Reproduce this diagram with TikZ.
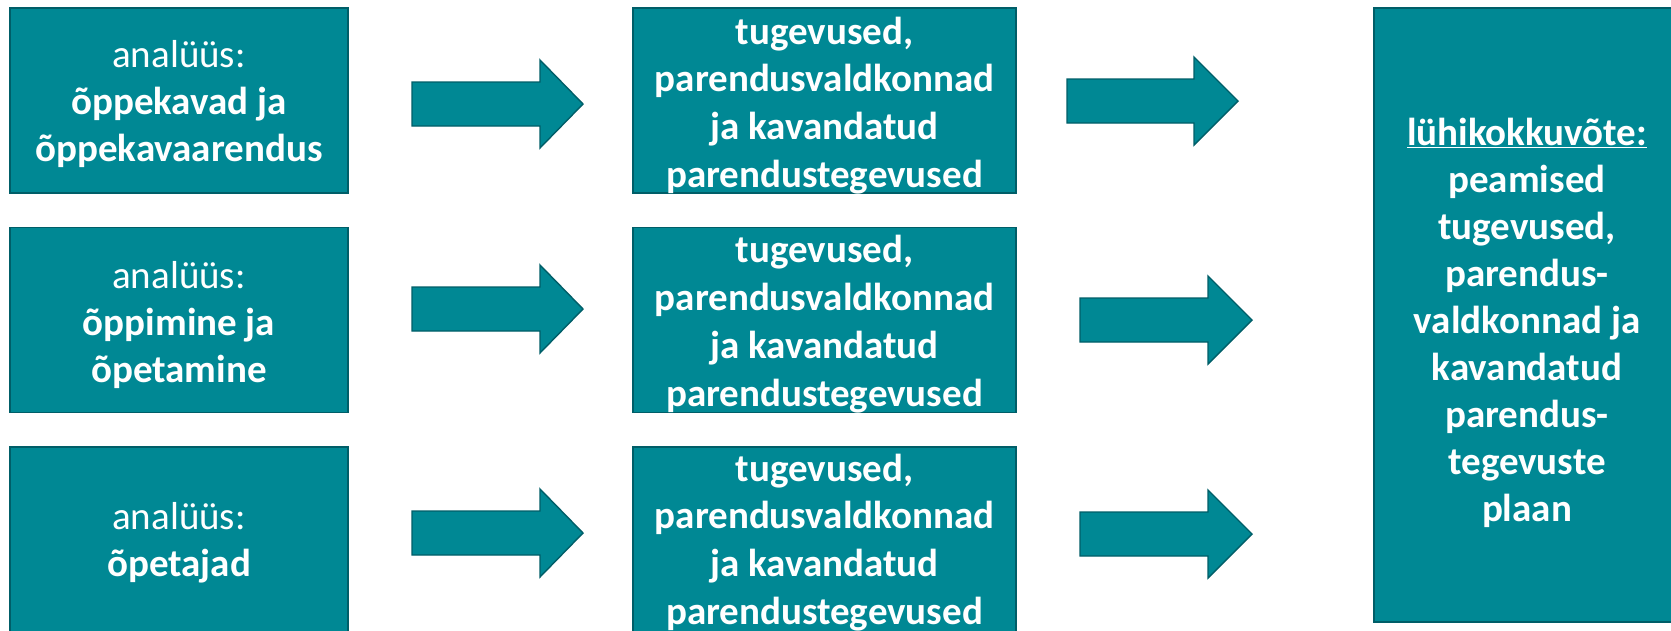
\documentclass[tikz,border=0pt]{standalone}
\usepackage{fontspec}
\setmainfont{Carlito}
\definecolor{tealfill}{RGB}{0,136,148}
\definecolor{tealline}{RGB}{0,94,104}
\newcommand\blockarr[4]{% x0, head base x, tip x, centre y
  \draw[arr] (#1,#4-22) -- (#2,#4-22) -- (#2,#4-44) -- (#3,#4) -- (#2,#4+44) -- (#2,#4+22) -- (#1,#4+22) -- cycle;}
\begin{document}
\begin{tikzpicture}[x=1pt,y=-1pt,
  box/.style={draw=tealline, fill=tealfill, line width=1.4pt, inner sep=0pt},
  lbox/.style={box, minimum width=338pt, minimum height=185pt},
  mbox/.style={box, minimum width=383pt, minimum height=185pt},
  lbl/.style={text=white, align=center, inner sep=0pt, font=\fontsize{39}{47}\selectfont},
  mlbl/.style={lbl, font=\bfseries\fontsize{39}{47.8}\selectfont},
  rlbl/.style={lbl, font=\bfseries\fontsize{39}{47}\selectfont},
  arr/.style={draw=tealline, fill=tealfill, line width=1.4pt, line join=miter}]
\clip (0,0) rectangle (1671,630);
\fill[white] (0,0) rectangle (1671,630);
% left boxes
\node[lbox] (l1) at (179,100.5) {};
\node[lbox] (l2) at (179,320) {};
\node[lbox] (l3) at (179,539.5) {};
% middle boxes
\node[mbox] (m1) at (824.5,100.5) {};
\node[mbox] (m2) at (824.5,320) {};
\node[mbox] (m3) at (824.5,539.5) {};
% right box
\node[box, minimum width=306pt, minimum height=614pt] (r) at (1527,315) {};
% texts
\node[lbl, yshift=-3.5pt] (tl1) at (l1.center) {analüüs:\\\textbf{õppekavad ja}\\\textbf{õppekavaarendus}};
\node[lbl, yshift=-5pt] (tl2) at (l2.center) {analüüs:\\\textbf{õppimine ja}\\\textbf{õpetamine}};
\node[lbl, yshift=-3pt] (tl3) at (l3.center) {analüüs:\\\textbf{õpetajad}};
\node[mlbl, yshift=-5pt] (tm1) at (m1.center) {tugevused,\\parendusvaldkonnad\\ja kavandatud\\parendustegevused};
\node[mlbl, yshift=-4pt] (tm2) at (m2.center) {tugevused,\\parendusvaldkonnad\\ja kavandatud\\parendustegevused};
\node[mlbl, yshift=-3pt] (tm3) at (m3.center) {tugevused,\\parendusvaldkonnad\\ja kavandatud\\parendustegevused};
\node[rlbl, yshift=-8pt] (tr) at (r.center) {\underline{lühikokkuvõte:}\\peamised\\tugevused,\\parendus-\\valdkonnad ja\\kavandatud\\parendus-\\tegevuste\\plaan};
% arrows
\blockarr{412}{540}{583}{104}
\blockarr{412}{540}{583}{309}
\blockarr{412}{540}{583}{533}
\blockarr{1067}{1194}{1238}{101}
\blockarr{1080}{1208}{1252}{320}
\blockarr{1080}{1208}{1252}{534}
\end{tikzpicture}
\end{document}
